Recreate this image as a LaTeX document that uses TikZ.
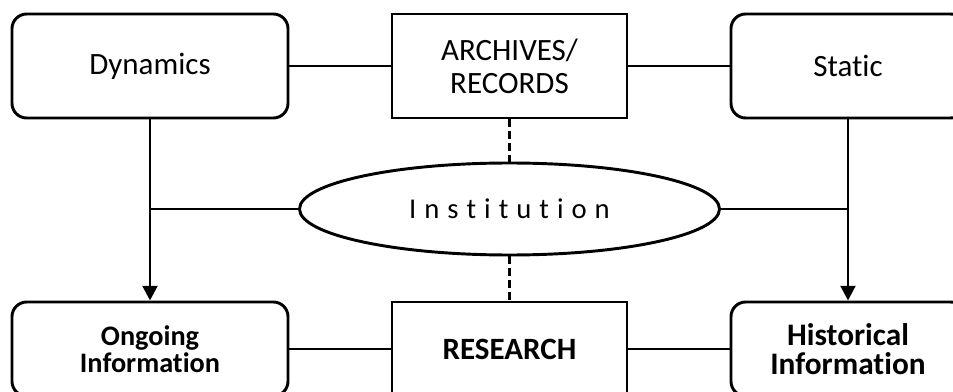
\documentclass[tikz,border=0pt]{standalone}
\usepackage{fontspec}
\setmainfont{Carlito}[Ligatures=NoCommon]
\usetikzlibrary{arrows.meta,shapes.geometric}
\begin{document}
\begin{tikzpicture}[x=0.75pt,y=-0.75pt,
  base/.style={draw, line width=2.2pt, inner sep=0pt, align=center,
    font=\fontsize{23.25}{24.75}\selectfont},
  roundbox/.style={base, rounded corners=11pt},
  sqbox/.style={base},
  toprow/.style={minimum height=78pt},
  botrow/.style={minimum height=70.5pt},
  wideL/.style={minimum width=207pt},
  wideM/.style={minimum width=176.25pt},
  wideR/.style={minimum width=175.5pt},
  smallbold/.style={font=\fontsize{21.2}{20}\selectfont\bfseries},
  bigbold/.style={font=\fontsize{23.5}{21.5}\selectfont\bfseries},
  oval/.style={draw, line width=2.2pt, ellipse, inner sep=0pt,
    minimum width=315pt, minimum height=69pt,
    font=\fontsize{21.5}{24}\selectfont},
  link/.style={draw, line width=2.2pt},
  arrowlink/.style={link, -{Triangle[length=11pt,width=11pt]}},
  dashlink/.style={link, dash pattern=on 6pt off 3pt}
]
\useasboundingbox (0,0) rectangle (953,392);
\fill[white] (0,0) rectangle (953,392);
\clip (0,0) rectangle (953,392);

\node[roundbox,toprow,wideL] (dyn) at (150,66) {Dynamics};
\node[sqbox,toprow,wideM] (arch) at (509.5,66) {ARCHIVES/\\RECORDS};
\node[roundbox,toprow,wideR] (stat) at (848,66) {Static};

\node[roundbox,botrow,wideL,smallbold] (ongo) at (150,349) {Ongoing\\Information};
\node[sqbox,botrow,wideM,font=\fontsize{23.25}{24.75}\selectfont\bfseries] (res) at (509.5,349) {RESEARCH};
\node[roundbox,botrow,wideR,bigbold] (hist) at (848,349) {Historical\\Information};

\node[oval] (inst) at (509.5,209) {I\kern6pt n\kern6pt s\kern6pt t\kern6pt i\kern6pt t\kern6pt u\kern6pt t\kern6pt i\kern6pt o\kern6pt n};

\draw[link] (dyn.east) -- (arch.west);
\draw[link] (arch.east) -- (stat.west);
\draw[link] (ongo.east) -- (res.west);
\draw[link] (res.east) -- (hist.west);

\draw[arrowlink] (dyn.south) -- (ongo.north);
\draw[arrowlink] (stat.south) -- (hist.north);

\draw[link] (inst.west) -- (inst.west -| dyn.south);
\draw[link] (inst.east) -- (inst.east -| stat.south);

\draw[dashlink] (arch.south) -- (inst.north);
\draw[dashlink] (inst.south) -- (res.north);
\end{tikzpicture}
\end{document}
